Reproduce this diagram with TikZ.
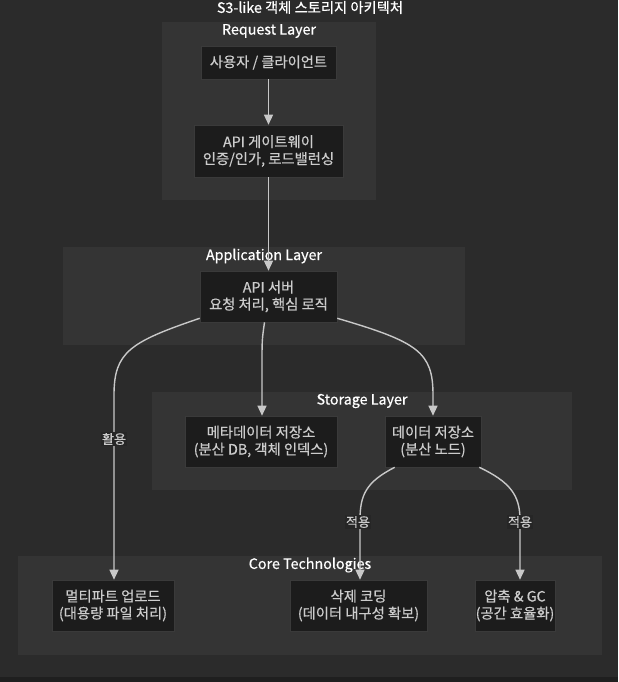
\documentclass[tikz,border=0pt]{standalone}
\usepackage{fontspec}
\setmainfont{Noto Sans CJK KR}[UprightFeatures={FakeBold=0.5}]
\usetikzlibrary{arrows.meta,calc}
\definecolor{bgc}{HTML}{2B2B2B}
\definecolor{bgdark}{HTML}{1F1F1F}
\definecolor{clus}{HTML}{343434}
\definecolor{nodef}{HTML}{1C1C1C}
\definecolor{nodeb}{HTML}{3A3A3A}
\definecolor{txt}{HTML}{CCCCCC}
\definecolor{edgec}{HTML}{C8C8C8}
\definecolor{lblbg}{HTML}{262626}
\tikzset{
  x=1pt,y=-1pt,
  box/.style={draw=nodeb,line width=0.6pt,fill=nodef,text=txt,font=\fontsize{14.3}{17}\selectfont,align=center,inner sep=0pt},
  clusterbox/.style={fill=clus,draw=none},
  clab/.style={text=white,font=\fontsize{14.3}{16}\selectfont},
  conn/.style={draw=edgec,line width=1.4pt,-{Triangle[length=10pt,width=9pt]}},
  elab/.style={fill=lblbg,text=txt,font=\fontsize{13}{14}\selectfont,inner sep=1pt}
}
\begin{document}
\begin{tikzpicture}
\useasboundingbox (0,0) rectangle (618,682);
\fill[bgc] (0,0) rectangle (618,682);
\fill[bgdark] (0,677) rectangle (618,682);
% title
\node[text=white,font=\fontsize{14.3}{16}\selectfont] (title) at (310,7.5) {S3-like 객체 스토리지 아키텍처};
% clusters
\fill[clusterbox] (162,22) rectangle (376,200);
\node[clab] (lreq) at (269,31) {Request Layer};
\fill[clusterbox] (63,247) rectangle (465,345);
\node[clab] (lapp) at (264,256) {Application Layer};
\fill[clusterbox] (152,392) rectangle (572,490);
\node[clab] (lsto) at (362,401) {Storage Layer};
\fill[clusterbox] (18,556) rectangle (602,655);
\node[clab] (lcore) at (310,565) {Core Technologies};
% nodes
\node[box,minimum width=135pt,minimum height=33pt] (user) at (268.5,62.5) {사용자 / 클라이언트};
\node[box,minimum width=149pt,minimum height=52pt] (gw) at (268.5,151) {API 게이트웨이\\인증/인가, 로드밸런싱};
\node[box,minimum width=137pt,minimum height=51pt] (srv) at (268.5,296.5) {API 서버\\요청 처리, 핵심 로직};
\node[box,minimum width=152pt,minimum height=51pt] (meta) at (261,441.5) {메타데이터 저장소\\(분산 DB, 객체 인덱스)};
\node[box,minimum width=96pt,minimum height=51pt] (data) at (433,441.5) {데이터 저장소\\(분산 노드)};
\node[box,minimum width=122pt,minimum height=51pt] (multi) at (113,605.5) {멀티파트 업로드\\(대용량 파일 처리)};
\node[box,minimum width=137pt,minimum height=51pt] (ec) at (358.5,605.5) {삭제 코딩\\(데이터 내구성 확보)};
\node[box,minimum width=80pt,minimum height=51pt] (gc) at (515,605.5) {압축 \& GC\\(공간 효율화)};
% edges
\draw[conn] (user.south) -- (gw.north);
\draw[conn] (gw.south) -- (srv.north);
\draw[conn] ($(srv.south west)+(0,-4)$) .. controls (130,342) and (114,352) .. (114,395) -- (multi.north -| 114,0);
\draw[conn] ($(srv.south)+(-4,0)$) .. controls (262,340) .. (262,365) -- (meta.north -| 262,0);
\draw[conn] ($(srv.south east)+(0,-4)$) .. controls (418,342) and (433,352) .. (433,395) -- (data.north);
\draw[conn] ($(data.south west)+(10,0)$) .. controls (366,482) and (360,495) .. (360,520) -- (ec.north -| 360,0);
\draw[conn] ($(data.south east)+(-2,0)$) .. controls (510,482) and (520,495) .. (520,520) -- (gc.north -| 520,0);
\node[elab] (l1) at (114,439) {활용};
\node[elab] (l2) at (358,522) {적용};
\node[elab] (l3) at (520,522) {적용};
\end{tikzpicture}
\end{document}
